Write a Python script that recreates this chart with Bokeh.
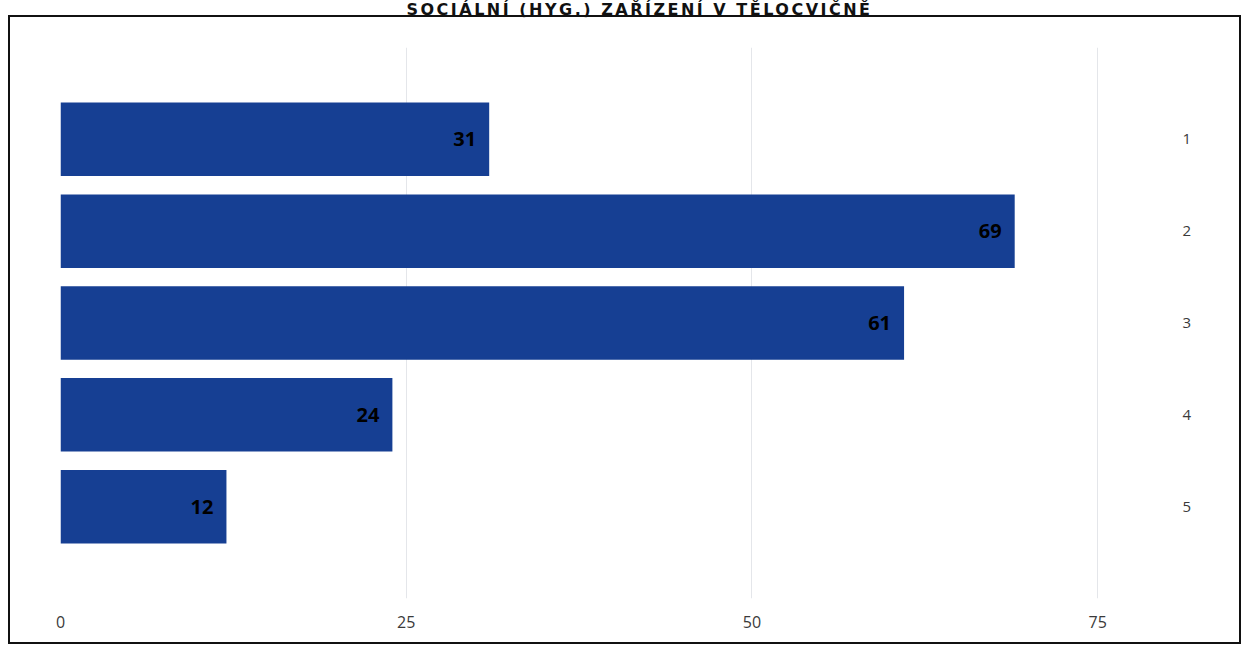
from bokeh.plotting import figure
from bokeh.models import ColumnDataSource, Div, FactorRange, Range1d, FixedTicker, LabelSet
from bokeh.layouts import column
from bokeh.embed import file_html
from bokeh.resources import INLINE
from bokeh.core.properties import value

title_text = "SOCIÁLNÍ (HYG.) ZAŘÍZENÍ V TĚLOCVIČNĚ"
categories = ["1", "2", "3", "4", "5"]
values = [31, 69, 61, 24, 12]
x_ticks = [0, 25, 50, 75]

src = ColumnDataSource(dict(cat=categories, val=values, lbl=[str(v) for v in values]))

p = figure(
    width=1233, height=629,
    y_range=FactorRange(factors=list(reversed(categories)), range_padding=0.2),
    x_range=Range1d(0, 80.7),
    output_backend="svg", toolbar_location=None,
    y_axis_location="right",
    min_border_left=50, min_border_right=67, min_border_top=30, min_border_bottom=48,
    styles={"border": "2px solid #111", "margin-left": "8px"},
)
p.outline_line_color = None
p.background_fill_color = "white"

p.hbar(y="cat", right="val", left=0, height=0.8, source=src,
       fill_color="#163f93", line_color=None)

labels = LabelSet(x="val", y="cat", text="lbl", source=src, x_offset=-13,
                  text_align="right", text_baseline="middle",
                  text_font=value("Open Sans"), text_font_style="bold",
                  text_font_size="20px", text_color="#000000")
p.add_layout(labels)

p.xaxis.ticker = FixedTicker(ticks=x_ticks)
p.xgrid.ticker = FixedTicker(ticks=x_ticks)
p.xgrid.grid_line_color = "#e4e6ea"
p.ygrid.grid_line_color = None

for ax in (p.xaxis[0], p.yaxis[0]):
    ax.axis_line_color = None
    ax.major_tick_line_color = None
    ax.minor_tick_line_color = None
    ax.major_label_text_font = "Open Sans"
    ax.major_label_text_color = "#3a3a3a"
p.xaxis.major_label_text_font_size = "16px"
p.xaxis.major_label_standoff = 11
p.yaxis.major_label_text_font_size = "15px"
p.yaxis.major_label_standoff = 0

div = Div(
    text=('<span style="position: relative; top: 7px; left: 12px; font-family: \'DejaVu Sans\'; '
          'font-weight: bold; font-size: 16px; letter-spacing: 2.5px; color: #111;">'
          + title_text + '</span>'),
    width=1245, height=15,
)
div.styles = {"margin-top": "-5px"}
div.stylesheets = [":host { margin-top: -5px; } div { line-height: 15px; text-align: center; width: 1245px; }"]

layout = column(div, p, spacing=0)
open("out.html", "w").write(file_html(layout, INLINE))
